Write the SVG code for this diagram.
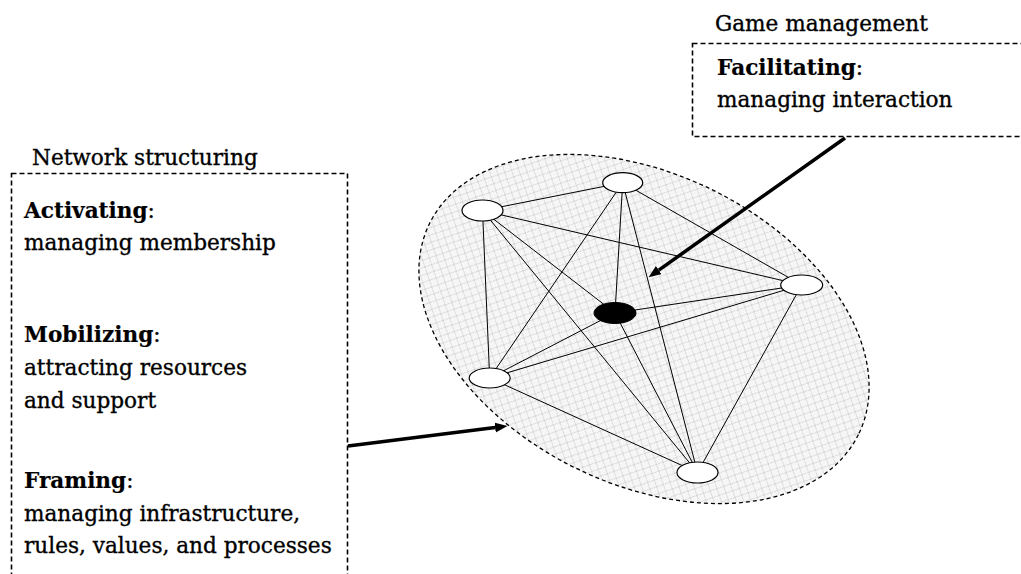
<svg xmlns="http://www.w3.org/2000/svg" width="1021" height="574" viewBox="0 0 1021 574">
  <style>
    .lbl { font-family: "DejaVu Serif", "Liberation Serif", serif; font-size: 21.6px; fill: #000; stroke: #000; stroke-width: 0.35; }
    .b { font-weight: bold; stroke-width: 0.2; }
    .frame { fill: none; stroke: #000; stroke-width: 1.6; stroke-dasharray: 5 3; }
    .edge { stroke: #000; stroke-width: 1; fill: none; }
    .node { fill: #fff; stroke: #000; stroke-width: 1.2; }
    .hub { fill: #000; stroke: #000; stroke-width: 1; }
    .arrow { stroke: #000; stroke-width: 3.5; fill: none; marker-end: url(#head); }
  </style>
  <defs>
    <pattern id="weave" width="10" height="10" patternUnits="userSpaceOnUse">
      <rect width="10" height="10" fill="#f6f6f6"/>
      <path d="M0,0 L10,10 M10,0 L0,10" stroke="#d6d6d6" stroke-width="1"/>
    </pattern>
    <marker id="head" markerUnits="userSpaceOnUse" markerWidth="13" markerHeight="11" refX="0" refY="5" orient="auto">
      <path d="M0,0 L12.5,5 L0,10 z" fill="#000"/>
    </marker>
  </defs>

  <rect width="1021" height="574" fill="#fff"/>

  <!-- network boundary -->
  <g id="network-area">
    <ellipse cx="644" cy="329" rx="239" ry="155" transform="rotate(26.2 644 329)" fill="url(#weave)" stroke="#000" stroke-width="1.3" stroke-dasharray="4 3"/>
  </g>

  <!-- links between actors (complete graph) -->
  <g id="connectors">
    <line class="edge" x1="482.5" y1="210.5" x2="622.7" y2="182.7"/>
    <line class="edge" x1="482.5" y1="210.5" x2="489.7" y2="378"/>
    <line class="edge" x1="482.5" y1="210.5" x2="801.7" y2="285"/>
    <line class="edge" x1="482.5" y1="210.5" x2="615" y2="313"/>
    <line class="edge" x1="482.5" y1="210.5" x2="697.5" y2="472.5"/>
    <line class="edge" x1="622.7" y1="182.7" x2="801.7" y2="285"/>
    <line class="edge" x1="622.7" y1="182.7" x2="615" y2="313"/>
    <line class="edge" x1="622.7" y1="182.7" x2="697.5" y2="472.5"/>
    <line class="edge" x1="622.7" y1="182.7" x2="489.7" y2="378"/>
    <line class="edge" x1="801.7" y1="285" x2="615" y2="313"/>
    <line class="edge" x1="801.7" y1="285" x2="489.7" y2="378"/>
    <line class="edge" x1="801.7" y1="285" x2="697.5" y2="472.5"/>
    <line class="edge" x1="615" y1="313" x2="489.7" y2="378"/>
    <line class="edge" x1="615" y1="313" x2="697.5" y2="472.5"/>
    <line class="edge" x1="489.7" y1="378" x2="697.5" y2="472.5"/>

    <!-- management arrows -->
    <line class="arrow" x1="845" y1="138" x2="658.8" y2="270.1"/>
    <line class="arrow" x1="348" y1="446" x2="495.1" y2="427.5"/>
  </g>

  <!-- actors -->
  <g id="actor-top"><ellipse class="node" cx="622.7" cy="182.7" rx="20" ry="10"/></g>
  <g id="actor-left-top"><ellipse class="node" cx="482.5" cy="210.5" rx="20.5" ry="10.5"/></g>
  <g id="actor-right"><ellipse class="node" cx="801.7" cy="285" rx="21" ry="10"/></g>
  <g id="actor-left-bottom"><ellipse class="node" cx="489.7" cy="378" rx="20.5" ry="10"/></g>
  <g id="actor-bottom"><ellipse class="node" cx="697.5" cy="472.5" rx="20.5" ry="10.5"/></g>
  <g id="actor-manager"><ellipse class="hub" cx="615" cy="313" rx="21" ry="10.5"/></g>

  <!-- network structuring box -->
  <g id="network-structuring">
    <text class="lbl" x="32" y="165">Network structuring</text>
    <rect class="frame" x="11.5" y="173.5" width="336" height="430"/>
    <text class="lbl" x="24" y="218"><tspan class="b">Activating</tspan>:</text>
    <text class="lbl" x="24" y="250">managing membership</text>
    <text class="lbl" x="24" y="341.5"><tspan class="b">Mobilizing</tspan>:</text>
    <text class="lbl" x="24" y="374.5">attracting resources</text>
    <text class="lbl" x="24" y="408">and support</text>
    <text class="lbl" x="24" y="488"><tspan class="b">Framing</tspan>:</text>
    <text class="lbl" x="24" y="520.5">managing infrastructure,</text>
    <text class="lbl" x="24" y="553">rules, values, and processes</text>
  </g>

  <!-- game management box -->
  <g id="game-management">
    <text class="lbl" x="715" y="30.5">Game management</text>
    <rect class="frame" x="692.5" y="43.5" width="345" height="93"/>
    <text class="lbl" x="717" y="75"><tspan class="b">Facilitating</tspan>:</text>
    <text class="lbl" x="717" y="106.5">managing interaction</text>
  </g>
</svg>
